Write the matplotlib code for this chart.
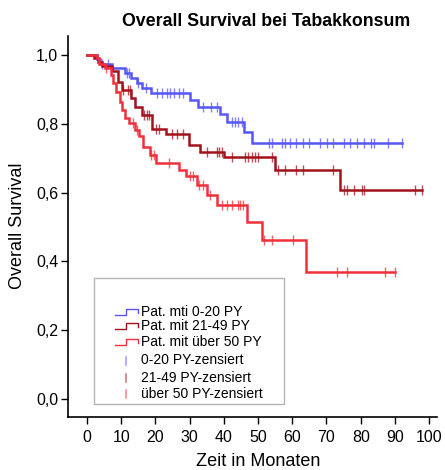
import numpy as np
import matplotlib.pyplot as plt
from matplotlib.lines import Line2D
from matplotlib.patches import Rectangle

plt.rcParams["font.family"] = ["Liberation Sans", "DejaVu Sans"]

# Kaplan-Meier Stufen: Zeitpunkte der Ereignisse (Monate) und Überleben danach
t_0_20 = [2.8, 3.8, 7.3, 11.1, 13.0, 14.5, 16.2, 18.6, 30.1, 32.3, 39.0, 41.0, 46.0, 48.2]
s_0_20 = [0.987, 0.974, 0.962, 0.947, 0.932, 0.919, 0.905, 0.890, 0.870, 0.850, 0.828, 0.806, 0.777, 0.745]
c_0_20 = [4.5, 6.0, 11.6, 12.3, 15.0, 17.2, 20.4, 21.8, 23.3, 24.3, 25.5, 27.0, 28.0,
          34.0, 36.2, 37.9, 42.3, 43.3, 44.2, 45.2, 53.2, 54.0, 57.1, 57.9, 59.2, 61.0,
          63.0, 65.0, 68.1, 70.1, 72.0, 75.1, 76.9, 79.0, 81.0, 82.9, 83.9, 88.1, 92.0]

t_21_49 = [1.9, 3.3, 4.3, 7.4, 9.2, 10.1, 13.0, 14.0, 16.0, 19.0, 23.0, 29.9, 33.0, 39.9, 55.0, 74.0]
s_21_49 = [0.990, 0.980, 0.968, 0.954, 0.922, 0.898, 0.874, 0.850, 0.826, 0.784, 0.770,
           0.738, 0.719, 0.703, 0.667, 0.608]
c_21_49 = [10.5, 12.1, 12.6, 16.8, 17.4, 18.1, 20.3, 21.1, 24.8, 26.2, 28.0, 35.0, 37.9,
           38.7, 39.4, 42.3, 46.2, 47.2, 48.2, 49.1, 50.1, 54.0, 55.9, 57.9, 61.1, 63.1,
           72.0, 75.1, 76.1, 78.1, 80.3, 81.0, 95.9, 97.9]

t_50 = [2.8, 3.6, 5.3, 7.0, 7.7, 8.5, 9.5, 10.1, 11.1, 12.4, 14.0, 15.3, 16.5, 18.4, 20.2,
        27.0, 29.0, 32.1, 35.0, 37.9, 46.7, 51.1, 64.0]
s_50 = [0.990, 0.975, 0.961, 0.942, 0.918, 0.893, 0.864, 0.840, 0.816, 0.801, 0.782, 0.763,
        0.733, 0.709, 0.687, 0.667, 0.648, 0.622, 0.593, 0.564, 0.515, 0.462, 0.369]
c_50 = [5.5, 13.3, 14.5, 18.6, 19.5, 24.1, 30.1, 31.1, 32.7, 34.0, 36.0, 39.4, 40.8, 42.3,
        44.2, 44.7, 45.7, 51.6, 54.0, 60.1, 73.0, 75.9, 87.1, 90.1]

x_ticks = list(range(0, 101, 10))
y_ticks = [0.0, 0.2, 0.4, 0.6, 0.8, 1.0]
y_tick_labels = ["0,0", "0,2", "0,4", "0,6", "0,8", "1,0"]

groups = [
    ("Pat. mti 0-20 PY", "0-20 PY-zensiert", t_0_20, s_0_20, c_0_20, "#5757F7"),
    ("Pat. mit 21-49 PY", "21-49 PY-zensiert", t_21_49, s_21_49, c_21_49, "#A3121C"),
    ("Pat. mit über 50 PY", "über 50 PY-zensiert", t_50, s_50, c_50, "#F0303A"),
]

W, H = 445, 470
fig = plt.figure(figsize=(W / 100, H / 100), dpi=100)
ax = fig.add_axes([68 / W, 1 - 417 / H, (437 - 68) / W, (417 - 36) / H])


def surv_at(times, surv, c):
    i = np.searchsorted(times, c, side="right")
    return 1.0 if i == 0 else surv[i - 1]


for name, cname, t, s, c, col in groups:
    xs = [0.0] + list(t) + [max(c)]
    ys = [1.0] + list(s) + [s[-1]]
    ax.step(xs, ys, where="post", color=col, lw=1.8, solid_joinstyle="miter")
    cy = [surv_at(t, s, ci) for ci in c]
    ax.plot(c, cy, ls="none", marker="|", ms=7.5, mew=1.0, color=col, alpha=0.75)

ax.set_xlim(-5.56, 102.3)
ax.set_ylim(-0.052, 1.055)
ax.set_xticks(x_ticks)
ax.set_yticks(y_ticks)
ax.set_yticklabels(y_tick_labels)
ax.tick_params(direction="out", length=5, width=1.0, labelsize=11.5, pad=2)
ax.tick_params(axis="x", pad=4)
for side in ["top", "right"]:
    ax.spines[side].set_visible(False)
for side in ["left", "bottom"]:
    ax.spines[side].set_linewidth(1.2)

fig.text(266 / W, 1 - 21 / H, "Overall Survival bei Tabakkonsum",
         ha="center", va="center", fontsize=12.8, fontweight="bold")
fig.text(258 / W, 1 - 461 / H, "Zeit in Monaten", ha="center", va="center", fontsize=13)
fig.text(18 / W, 1 - 226 / H, "Overall Survival", ha="center", va="center",
         fontsize=13, rotation=90)


# Legende
def fp(x, y):
    return x / W, 1 - y / H


box = Rectangle(fp(94, 404), (284 - 94) / W, (404 - 278) / H, transform=fig.transFigure,
                fill=False, edgecolor="#B4B4B4", lw=1.0)
fig.add_artist(box)

row_y = [312.5, 326.5, 342.5, 360.5, 377.5, 394.0]
for k, (name, cname, t, s, c, col) in enumerate(groups):
    y = row_y[k]
    gx = [115, 126, 126, 137.5, 137.5]
    gy = [y + 2.5, y + 2.5, y - 3.5, y - 3.5, y + 0.5]
    fig.add_artist(Line2D([fp(a, b)[0] for a, b in zip(gx, gy)],
                          [fp(a, b)[1] for a, b in zip(gx, gy)],
                          transform=fig.transFigure, color=col, lw=1.0))
    fig.text(*fp(141, y), name, ha="left", va="center", fontsize=10)

    y2 = row_y[k + 3]
    fig.add_artist(Line2D([fp(126, y2 - 4)[0]] * 2, [fp(126, y2 - 4)[1], fp(126, y2 + 4)[1]],
                          transform=fig.transFigure, color=col, lw=1.2, alpha=0.55))
    fig.text(*fp(141, y2), cname, ha="left", va="center", fontsize=10)

fig.savefig("out.png", dpi=100)
